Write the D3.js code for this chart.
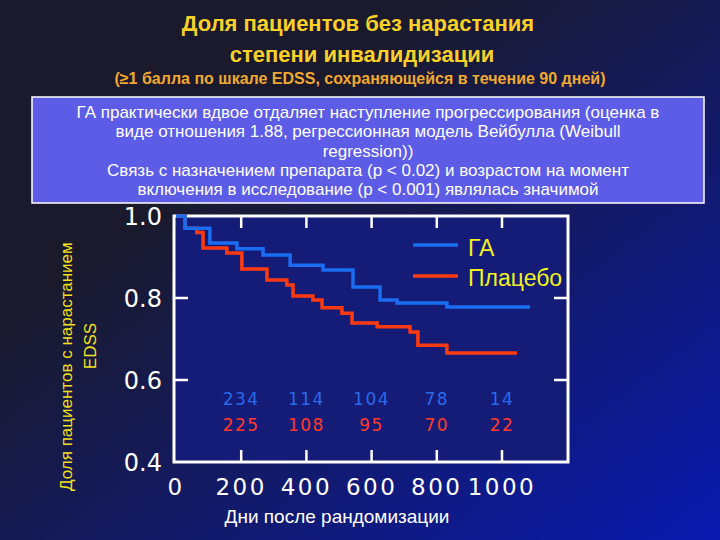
<!DOCTYPE html>
<html><head><meta charset="utf-8">
<script src="https://cdn.jsdelivr.net/npm/d3@7"></script>
<style>body{margin:0;background:#1a1a2a}</style></head>
<body><svg id="c" width="720" height="540"></svg>
<script>
const gaSeries = [[0,1],[28,0.97],[74,0.97],[104,0.934],[187,0.92],[267,0.905],[350,0.88],[451,0.868],[543,0.827],[626,0.795],[678,0.788],[831,0.778],[1086,0.778]];
const placeboSeries = [[0,1],[28,0.97],[64,0.96],[83,0.922],[156,0.91],[202,0.871],[279,0.844],[340,0.832],[359,0.805],[420,0.795],[448,0.776],[509,0.763],[540,0.739],[617,0.73],[718,0.717],[742,0.685],[831,0.666],[1046,0.666]];
const xTicks = [0,200,400,600,800,1000];
const yTicks = [0.4,0.6,0.8,1.0];
const riskDays = [200,400,600,800,1000];
const riskGA = [234,114,104,78,14];
const riskPlacebo = [225,108,95,70,22];

const svg = d3.select("#c");
const defs = svg.append("defs");
const g = defs.append("linearGradient").attr("id","bg").attr("x1","0").attr("y1","0").attr("x2","1").attr("y2","1");
g.append("stop").attr("offset","0.3").attr("stop-color","#1a1a2c");
g.append("stop").attr("offset","1").attr("stop-color","#0a1ab0");
svg.append("rect").attr("width",720).attr("height",540).attr("fill","url(#bg)");

const x = d3.scaleLinear().domain([0,1000]).range([176,502]);
const y = d3.scaleLinear().domain([0.4,1.0]).range([462,216]);
const x0=174, x1=568, y0=216, y1=462;
svg.append("rect").attr("x",x0).attr("y",y0).attr("width",x1-x0).attr("height",y1-y0)
  .attr("fill","#141c78").attr("stroke","#fff").attr("stroke-width",3);

riskDays.forEach(d=>{
  svg.append("line").attr("x1",x(d)).attr("x2",x(d)).attr("y1",y0).attr("y2",y0+12).attr("stroke","#fff").attr("stroke-width",2.5);
  svg.append("line").attr("x1",x(d)).attr("x2",x(d)).attr("y1",y1).attr("y2",y1-12).attr("stroke","#fff").attr("stroke-width",2.5);
});
[0.6,0.8].forEach(v=>{
  svg.append("line").attr("x1",x0).attr("x2",x0+14).attr("y1",y(v)).attr("y2",y(v)).attr("stroke","#fff").attr("stroke-width",2.5);
  svg.append("line").attr("x1",x1).attr("x2",x1-14).attr("y1",y(v)).attr("y2",y(v)).attr("stroke","#fff").attr("stroke-width",2.5);
});
const fnt = "DejaVu Sans, sans-serif";
yTicks.forEach(v=>svg.append("text").attr("x",162).attr("y",y(v)+9).attr("text-anchor","end")
  .attr("fill","#fff").attr("font-family",fnt).attr("font-size",24).text(v.toFixed(1)));
xTicks.forEach(v=>svg.append("text").attr("x",x(v)).attr("y",495).attr("text-anchor","middle")
  .attr("fill","#fff").attr("font-family",fnt).attr("font-size",23).attr("letter-spacing",2.5).text(v));

riskDays.forEach((d,i)=>{
  svg.append("text").attr("x",x(d)).attr("y",405).attr("text-anchor","middle").attr("fill","#2a6ae8")
    .attr("font-family",fnt).attr("font-size",17).attr("letter-spacing",1.5).text(riskGA[i]);
  svg.append("text").attr("x",x(d)).attr("y",431).attr("text-anchor","middle").attr("fill","#ff3a2a")
    .attr("font-family",fnt).attr("font-size",17).attr("letter-spacing",1.5).text(riskPlacebo[i]);
});

const line = d3.line().x(d=>x(d[0])).y(d=>y(d[1])).curve(d3.curveStepAfter);
svg.append("path").attr("d",line(placeboSeries)).attr("fill","none").attr("stroke","#ff3a10").attr("stroke-width",3.5);
svg.append("path").attr("d",line(gaSeries)).attr("fill","none").attr("stroke","#1a6cf0").attr("stroke-width",3.5);

svg.append("line").attr("x1",413).attr("x2",458).attr("y1",245).attr("y2",245).attr("stroke","#1a6cf0").attr("stroke-width",3.5);
svg.append("line").attr("x1",413).attr("x2",458).attr("y1",276).attr("y2",276).attr("stroke","#ff3a10").attr("stroke-width",3.5);
svg.append("text").attr("x",468).attr("y",256).attr("fill","#f0f020").attr("font-family","Liberation Sans, Arial").attr("font-size",23).text("ГА");
svg.append("text").attr("x",468).attr("y",286).attr("fill","#f0f020").attr("font-family","Liberation Sans, Arial").attr("font-size",23).text("Плацебо");

svg.append("text").attr("x",337).attr("y",523).attr("text-anchor","middle").attr("fill","#fff")
  .attr("font-family","Liberation Sans, Arial").attr("font-size",19).text("Дни после рандомизации");

svg.append("text").attr("transform","translate(72,491) rotate(-90)").attr("text-anchor","start").attr("fill","#f0e020")
  .attr("font-family","Liberation Sans, Arial").attr("font-size",17).text("Доля пациентов с нарастанием");
svg.append("text").attr("transform","translate(96,346) rotate(-90)").attr("text-anchor","middle").attr("fill","#f0e020")
  .attr("font-family","Liberation Sans, Arial").attr("font-size",17).text("EDSS");

svg.append("text").attr("x",358).attr("y",31).attr("text-anchor","middle").attr("fill","#f8d028")
  .attr("font-family","Liberation Sans, Arial").attr("font-weight","bold").attr("font-size",22).text("Доля пациентов без нарастания");
svg.append("text").attr("x",362).attr("y",62).attr("text-anchor","middle").attr("fill","#f8d028")
  .attr("font-family","Liberation Sans, Arial").attr("font-weight","bold").attr("font-size",22).text("степени инвалидизации");
svg.append("text").attr("x",360).attr("y",84).attr("text-anchor","middle").attr("fill","#f0a830")
  .attr("font-family","Liberation Sans, Arial").attr("font-weight","bold").attr("font-size",16).text("(≥1 балла по шкале EDSS, сохраняющейся в течение 90 дней)");

svg.append("rect").attr("x",32).attr("y",97).attr("width",672).attr("height",106).attr("fill","#5c5ce6").attr("stroke","#fff").attr("stroke-width",1.5);
const lines = ["ГА практически вдвое отдаляет наступление прогрессирования (оценка в",
  "виде отношения 1.88, регрессионная модель Вейбулла (Weibull","regression))",
  "Связь с назначением препарата (p < 0.02) и возрастом на момент",
  "включения в исследование (p < 0.001) являлась значимой"];
lines.forEach((t,i)=>svg.append("text").attr("x",368).attr("y",118+i*19.3).attr("text-anchor","middle").attr("fill","#fff")
  .attr("font-family","Liberation Sans, Arial").attr("font-size",17).attr("textLength",null).text(t));
</script></body></html>
